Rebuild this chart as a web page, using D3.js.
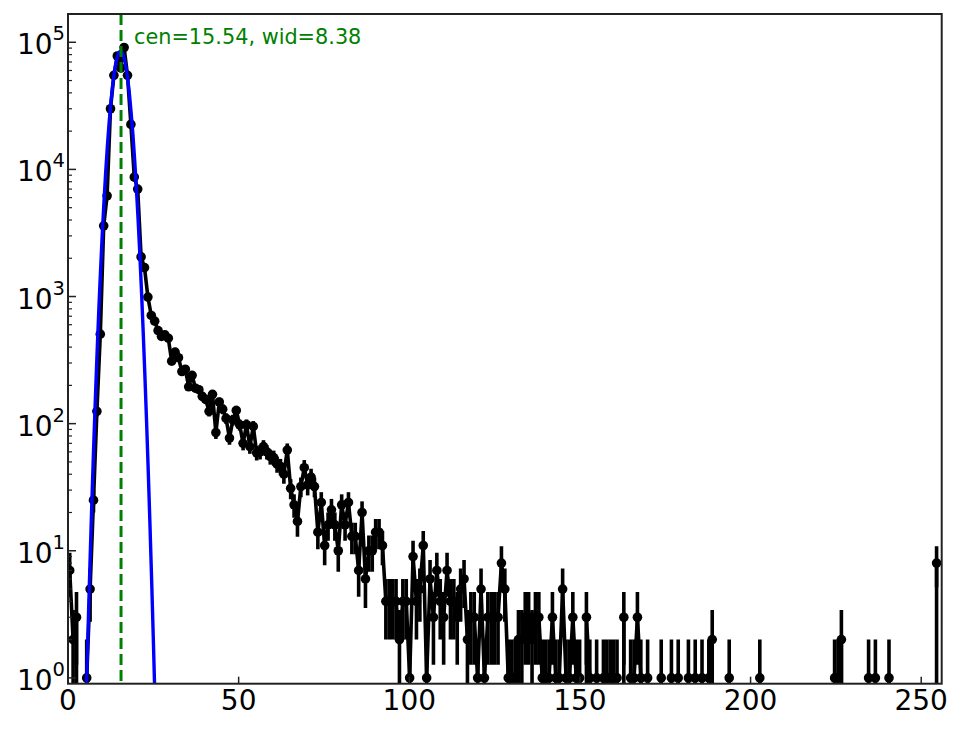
<!DOCTYPE html>
<html><head><meta charset="utf-8">
<script src="https://cdn.jsdelivr.net/npm/d3@7"></script>
<style>body{margin:0;background:#fff} svg{display:block} text{font-family:"DejaVu Sans",sans-serif}</style>
</head><body>
<svg id="c" width="964" height="729"></svg>
<script>
// histogram counts per bin (256 bins spanning 0..255)
const counts = [
  7, 2, 3, 0, 0, 1, 5, 25, 125, 506,
  3600, 6200, 30000, 55000, 78000, 63000, 91000, 55000, 22600, 8700,
  7000, 2050, 1690, 990, 710, 640, 540, 485, 500, 470,
  310, 365, 330, 257, 268, 195, 240, 190, 185, 164,
  155, 125, 170, 85, 148, 130, 110, 77, 107, 127,
  98, 70, 98, 66, 95, 59, 60, 66, 60, 55,
  54, 48, 46, 40, 62, 31, 23, 17, 32, 45,
  33, 38, 32, 14, 24, 11, 16, 21, 16, 10,
  23, 16, 24, 13, 13, 7, 20, 6, 10, 10,
  14, 14, 11, 4, 4, 4, 4, 2, 4, 4,
  1, 9, 4, 5, 11, 1, 6, 3, 7, 4,
  3, 7, 4, 4, 3, 5, 6, 2, 3, 3,
  1, 5, 1, 3, 3, 3, 3, 8, 5, 1,
  1, 1, 2, 2, 3, 3, 2, 3, 3, 1,
  1, 1, 3, 1, 1, 5, 1, 1, 3, 1,
  1, 0, 3, 1, 0, 1, 0, 1, 1, 1,
  1, 1, 0, 3, 0, 1, 1, 3, 1, 0,
  1, 0, 0, 0, 1, 0, 0, 1, 0, 1,
  0, 0, 1, 0, 1, 0, 1, 0, 1, 2,
  0, 0, 0, 0, 1, 0, 0, 0, 0, 0,
  0, 0, 0, 1, 0, 0, 0, 0, 0, 0,
  0, 0, 0, 0, 0, 0, 0, 0, 0, 0,
  0, 0, 0, 0, 0, 1, 1, 2, 0, 0,
  0, 0, 0, 0, 0, 1, 0, 1, 0, 0,
  0, 1, 0, 0, 0, 0, 0, 0, 0, 0,
  0, 0, 0, 0, 0, 8
];
const histMin = 0, histMax = 255;

const fitX = [5, 5.5, 6, 6.5, 7, 7.5, 8, 8.5, 9, 9.5, 10, 10.5, 11, 11.5, 12, 12.5, 13, 13.5, 14, 14.5,
  15, 15.5, 16, 16.5, 17, 17.5, 18, 18.5, 19, 19.5, 20, 20.5, 21, 21.5, 22, 22.5, 23, 23.5, 24, 24.5, 25, 25.5, 26];
const fitY = [0.32, 1.03, 3.1, 9.0, 24.5, 63, 152, 348, 750, 1525, 2930, 5310, 9090, 14700, 22400, 32200, 43700, 56100, 67900, 77500,
  83600, 85000, 81700, 74000, 63400, 51200, 39000, 28000, 19100, 12200, 7380, 4220, 2270, 1160, 555, 251, 108, 43.4, 16.6, 5.96, 2.02, 0.65, 0.2];
const fitCen = 15.54, fitWid = 8.38;

const xTicks = [0, 50, 100, 150, 200, 250];
const yTicks = [1, 10, 100, 1000, 10000, 100000];
const yTickExp = ["0", "1", "2", "3", "4", "5"];

const L = 68, R = 941.7, T = 14, B = 683.7;
const svg = d3.select("#c");
const x = d3.scaleLinear().domain([0, 256]).range([L, R]);
const y = d3.scaleLog().domain([0.9, 1.669e5]).range([B, T]);
const yc = v => v > 0 ? y(v) : y(1e-300);

const bw = (histMax - histMin) / counts.length;
const data = counts.map((c, i) => ({ x: histMin + (i + 0.5) * bw, v: c }));

svg.append("defs").append("clipPath").attr("id", "clip")
  .append("rect").attr("x", L).attr("y", T).attr("width", R - L).attr("height", B - T);
const g = svg.append("g").attr("clip-path", "url(#clip)");

// error bars
g.append("g").selectAll("line").data(data.filter(d => d.v > 0)).join("line")
  .attr("x1", d => x(d.x)).attr("x2", d => x(d.x))
  .attr("y1", d => yc(d.v - Math.sqrt(d.v))).attr("y2", d => yc(d.v + Math.sqrt(d.v)))
  .attr("stroke", "#000").attr("stroke-width", 3.6);

// connecting line
g.append("path").datum(data)
  .attr("d", d3.line().x(d => x(d.x)).y(d => yc(d.v)))
  .attr("fill", "none").attr("stroke", "#000").attr("stroke-width", 3.6).attr("stroke-linejoin", "round");

// markers
g.append("g").selectAll("circle").data(data.filter(d => d.v > 0)).join("circle")
  .attr("cx", d => x(d.x)).attr("cy", d => y(d.v)).attr("r", 4.8).attr("fill", "#000");

// fit curve
g.append("path").datum(fitX.map((fx, i) => [fx, fitY[i]]))
  .attr("d", d3.line().x(d => x(d[0])).y(d => y(d[1])).curve(d3.curveMonotoneX))
  .attr("fill", "none").attr("stroke", "#0000ff").attr("stroke-width", 3.4);

// centre line
g.append("line").attr("x1", x(fitCen)).attr("x2", x(fitCen)).attr("y1", T).attr("y2", B)
  .attr("stroke", "#008000").attr("stroke-width", 3).attr("stroke-dasharray", "11,5");

svg.append("text").attr("x", x(fitCen) + 13).attr("y", 43.5)
  .attr("font-size", 20.8).attr("fill", "#008000")
  .text(`cen=${fitCen.toFixed(2)}, wid=${fitWid.toFixed(2)}`);

// axes ticks
const tk = svg.append("g");
xTicks.forEach(t => {
  tk.append("line").attr("x1", x(t)).attr("x2", x(t)).attr("y1", B).attr("y2", B - 7)
    .attr("stroke", "#222").attr("stroke-width", 1.5);
  tk.append("text").attr("x", x(t)).attr("y", 710).attr("text-anchor", "middle")
    .attr("font-size", 28).attr("fill", "#000").text(t);
});
yTicks.forEach((t, k) => {
  tk.append("line").attr("x1", L).attr("x2", L + 8).attr("y1", y(t)).attr("y2", y(t))
    .attr("stroke", "#222").attr("stroke-width", 1.5);
  const tx = tk.append("text").attr("x", 65).attr("y", y(t) + 12).attr("text-anchor", "end")
    .attr("fill", "#000");
  tx.append("tspan").attr("font-size", 28).text("10");
  tx.append("tspan").attr("font-size", 19.5).attr("dy", -14).text(yTickExp[k]);
});
for (let d = 0; d < 5; d++) {
  for (let m = 2; m <= 9; m++) {
    const v = m * Math.pow(10, d);
    if (v < y.domain()[1]) {
      tk.append("line").attr("x1", L).attr("x2", L + 4).attr("y1", y(v)).attr("y2", y(v))
        .attr("stroke", "#222").attr("stroke-width", 1.2);
    }
  }
}

// frame
svg.append("rect").attr("x", L).attr("y", T).attr("width", R - L).attr("height", B - T)
  .attr("fill", "none").attr("stroke", "#222").attr("stroke-width", 2);
</script>
</body></html>
